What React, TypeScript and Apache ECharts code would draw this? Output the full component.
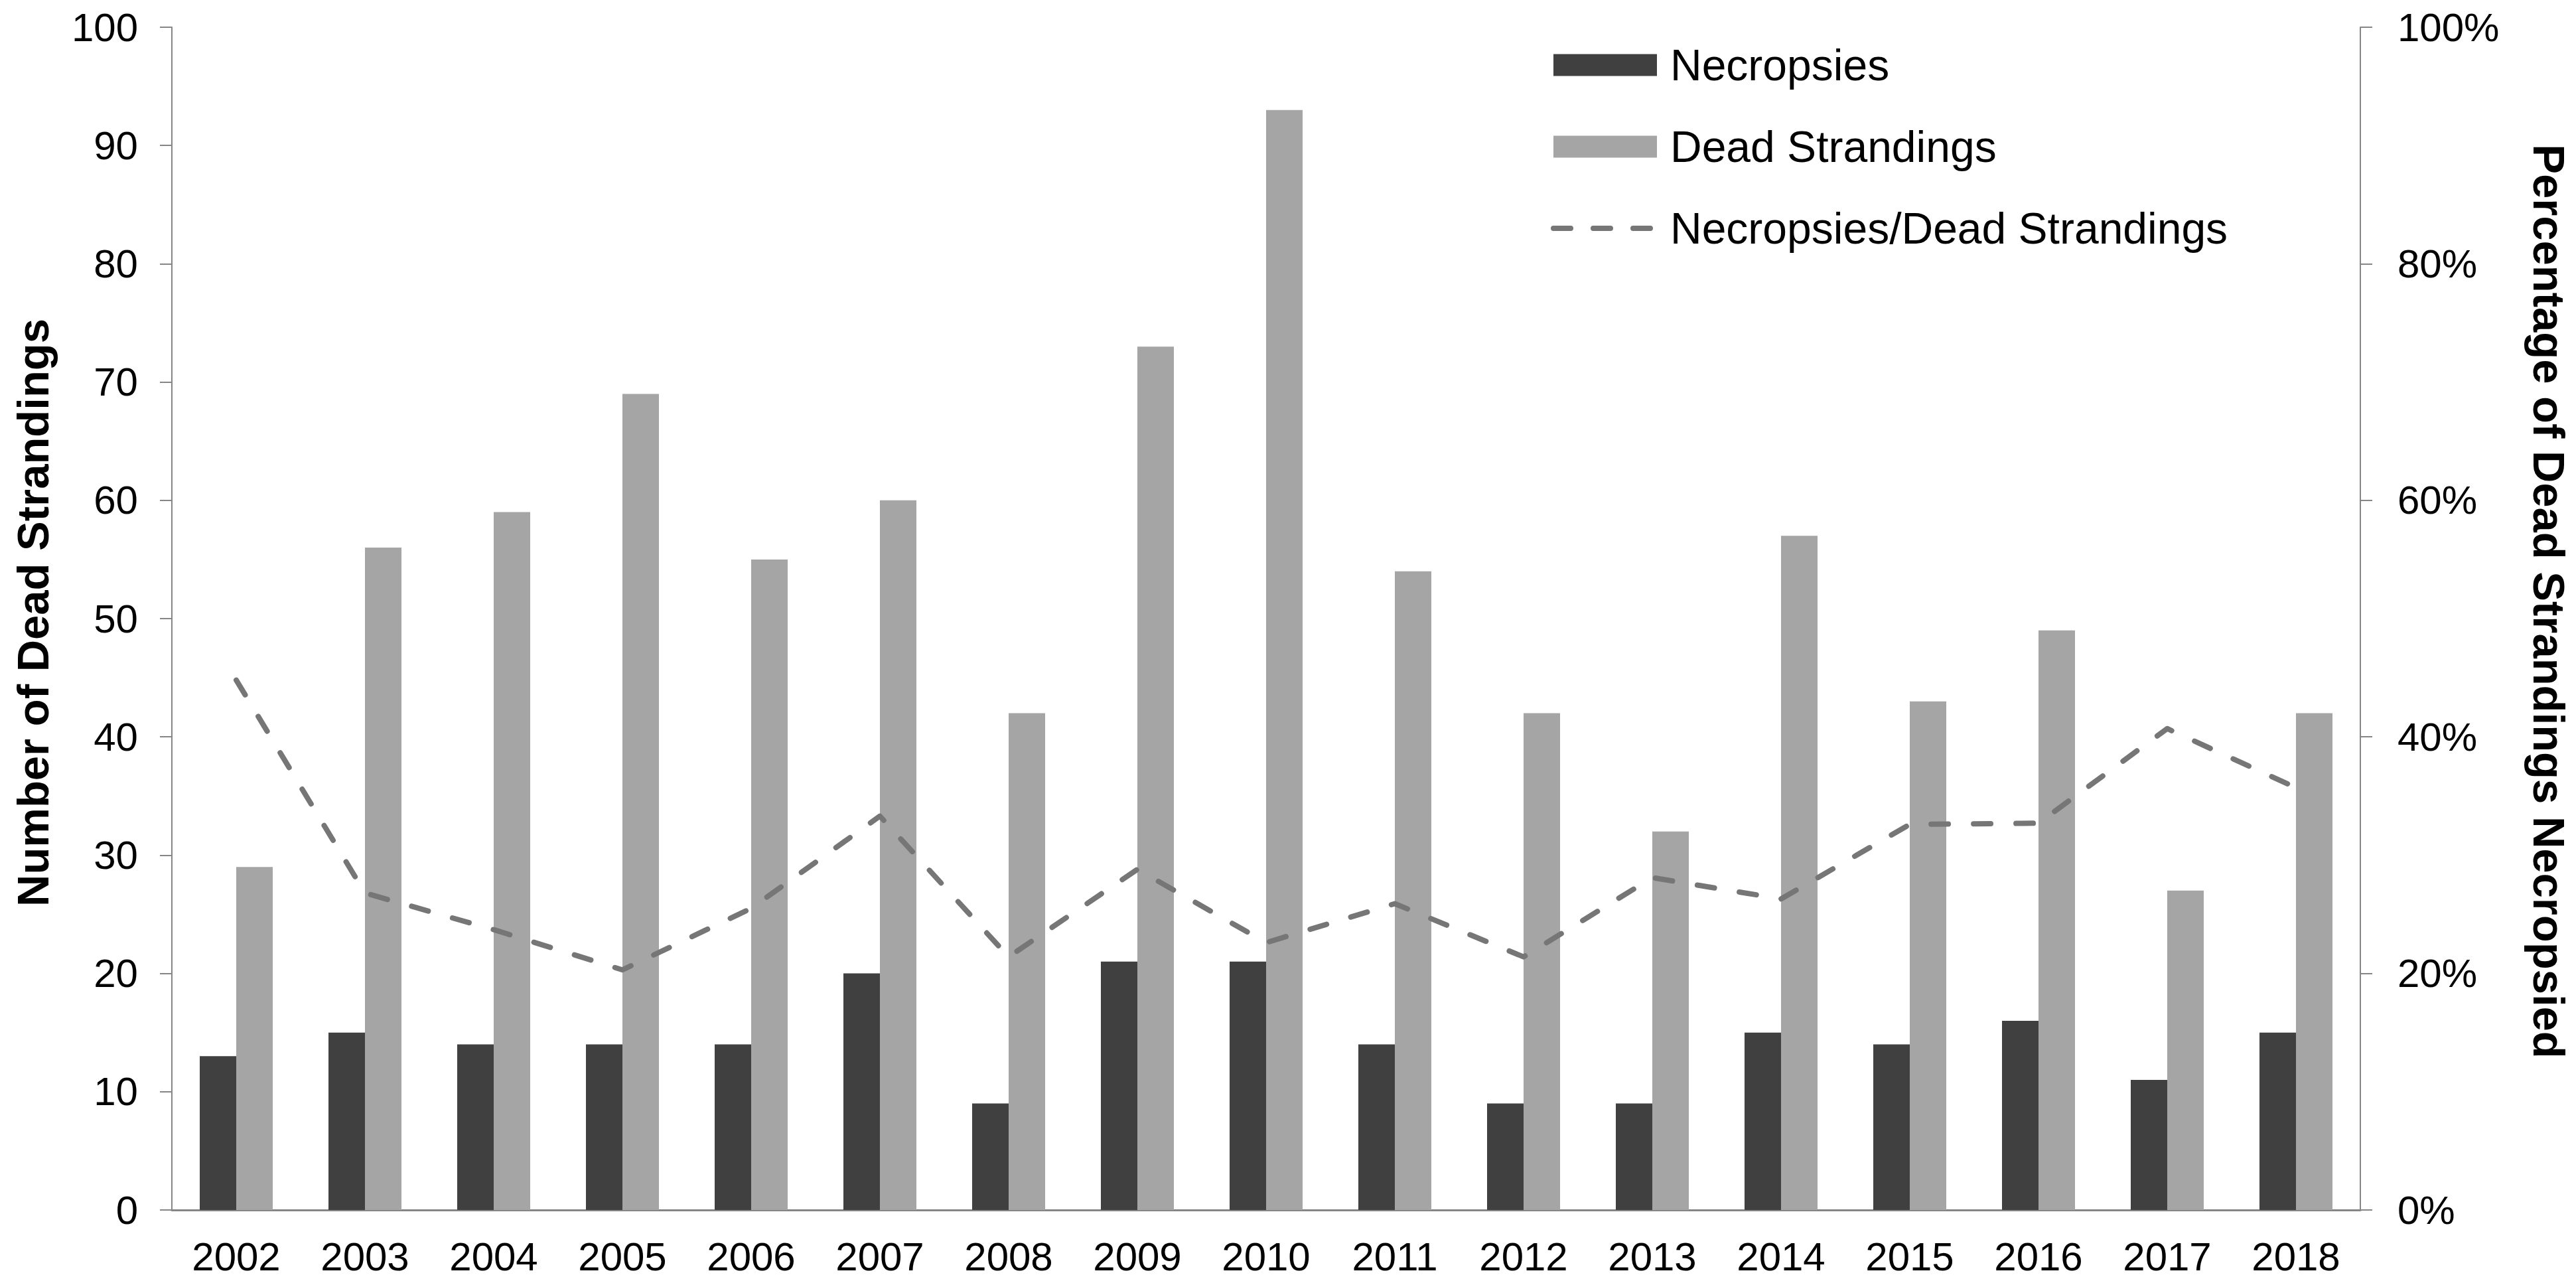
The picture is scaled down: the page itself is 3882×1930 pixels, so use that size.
import React, { useEffect, useRef } from "react";
import * as echarts from "echarts";

const years = ["2002","2003","2004","2005","2006","2007","2008","2009","2010","2011","2012","2013","2014","2015","2016","2017","2018"];
const necropsies = [13, 15, 14, 14, 14, 20, 9, 21, 21, 14, 9, 9, 15, 14, 16, 11, 15];
const deadStrandings = [29, 56, 59, 69, 55, 60, 42, 73, 93, 54, 42, 32, 57, 43, 49, 27, 42];
const percentNecropsied = [0.448, 0.268, 0.237, 0.203, 0.255, 0.333, 0.214, 0.288, 0.226, 0.259, 0.214, 0.281, 0.263, 0.326, 0.327, 0.407, 0.357];

const FONT = "'Liberation Sans', Arial, Helvetica, sans-serif";
const AXIS_GRAY = "#868686";
const LINE_GRAY = "#767676";

export default function App() {
  const ref = useRef<HTMLDivElement>(null);
  useEffect(() => {
    if (!ref.current) return;
    const chart = echarts.init(ref.current, undefined, { renderer: "svg" });
    chart.setOption({
      animation: false,
      backgroundColor: "#ffffff",
      textStyle: { fontFamily: FONT },
      grid: { left: 259, right: 325, top: 41, bottom: 107, containLabel: false },
      legend: {
        orient: "vertical",
        left: 2332,
        top: 58,
        itemWidth: 156,
        itemHeight: 33,
        itemGap: 53,
        selectedMode: false,
        textStyle: { fontSize: 66, fontFamily: FONT, color: "#000", padding: [0, 0, 0, 15], lineHeight: 70 },
        data: [
          { name: "Necropsies", icon: "rect" },
          { name: "Dead Strandings", icon: "rect" },
          {
            name: "Necropsies/Dead Strandings",
            itemStyle: { opacity: 0 },
            lineStyle: { color: LINE_GRAY, width: 8, type: [26, 34], cap: "round", opacity: 1 },
          },
        ],
      },
      xAxis: {
        type: "category",
        data: years,
        axisLine: { onZero: false, lineStyle: { color: AXIS_GRAY, width: 3 } },
        axisTick: { show: false },
        axisLabel: { fontSize: 60, color: "#000", fontFamily: FONT, margin: 40 },
        splitLine: { show: false },
      },
      yAxis: [
        {
          type: "value",
          min: 0,
          max: 100,
          interval: 10,
          position: "left",
          axisLine: { show: true, lineStyle: { color: AXIS_GRAY, width: 2 } },
          axisTick: { show: true, length: 18, lineStyle: { color: AXIS_GRAY, width: 2 } },
          axisLabel: { fontSize: 60, color: "#000", fontFamily: FONT, margin: 51 },
          splitLine: { show: false },
        },
        {
          type: "value",
          min: 0,
          max: 1,
          interval: 0.2,
          position: "right",
          axisLine: { show: true, lineStyle: { color: AXIS_GRAY, width: 2 } },
          axisTick: { show: true, length: 18, lineStyle: { color: AXIS_GRAY, width: 2 } },
          axisLabel: {
            fontSize: 60,
            color: "#000",
            fontFamily: FONT,
            margin: 56,
            formatter: (v: number) => Math.round(v * 100) + "%",
          },
          splitLine: { show: false },
        },
      ],
      series: [
        {
          name: "Necropsies",
          type: "bar",
          yAxisIndex: 0,
          data: necropsies,
          barWidth: 55,
          barGap: "0%",
          itemStyle: { color: "#404040" },
        },
        {
          name: "Dead Strandings",
          type: "bar",
          yAxisIndex: 0,
          data: deadStrandings,
          barWidth: 55,
          barGap: "0%",
          itemStyle: { color: "#a5a5a5" },
        },
        {
          name: "Necropsies/Dead Strandings",
          type: "line",
          yAxisIndex: 1,
          data: percentNecropsied,
          symbol: "none",
          showSymbol: false,
          itemStyle: { color: LINE_GRAY },
          lineStyle: { color: LINE_GRAY, width: 8, type: [26, 38], cap: "round", join: "round" },
          z: 5,
        },
      ],
      graphic: [
        {
          type: "text",
          x: 49,
          y: 923,
          rotation: Math.PI / 2,
          style: {
            text: "Number of Dead Strandings",
            fontSize: 67,
            fontWeight: "bold",
            fontFamily: FONT,
            fill: "#000",
            textAlign: "center",
            textVerticalAlign: "middle",
          },
        },
        {
          type: "text",
          x: 3841,
          y: 906,
          rotation: -Math.PI / 2,
          style: {
            text: "Percentage of Dead Strandings Necropsied",
            fontSize: 67,
            fontWeight: "bold",
            fontFamily: FONT,
            fill: "#000",
            textAlign: "center",
            textVerticalAlign: "middle",
          },
        },
      ],
    });
    return () => chart.dispose();
  }, []);
  return (
    <div
      ref={ref}
      style={{ position: "fixed", left: 0, top: 0, width: 3882, height: 1930, background: "#fff" }}
    />
  );
}
